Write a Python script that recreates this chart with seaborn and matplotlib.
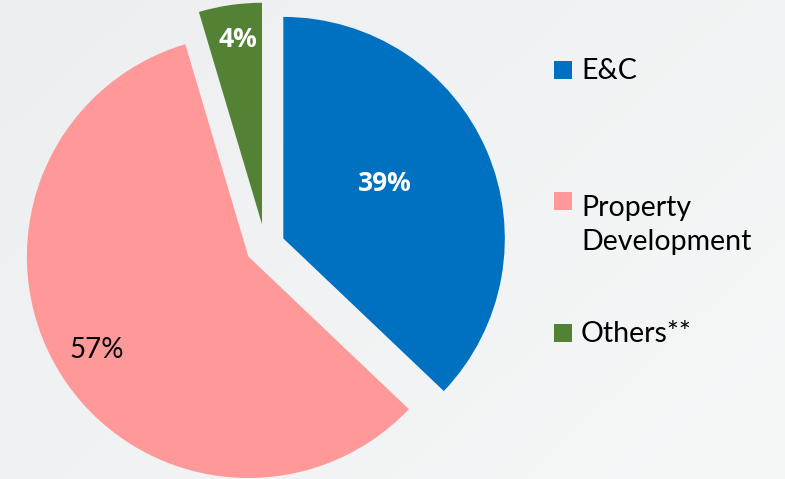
import numpy as np
import matplotlib
matplotlib.use("Agg")
import matplotlib.pyplot as plt
from matplotlib.patches import Rectangle
import seaborn as sns

# ---- data ----
categories = ["E&C", "Property\nDevelopment", "Others**"]
shares = [37.1, 58.3, 4.6]            # slice sizes as drawn
value_labels = ["39%", "57%", "4%"]   # label texts shown on the slices
colors = ["#0070C0", "#FF9999", "#548235"]

sns.set_theme(style="white")
plt.rcParams["font.family"] = ["Lato", "DejaVu Sans"]

W, H = 785, 479
fig = plt.figure(figsize=(W / 100, H / 100), dpi=100)
ax = fig.add_axes([0, 0, 1, 1])

# background gradient
grad = np.linspace(0, 1, 256)
gx, gy = np.meshgrid(grad, grad)
g = (gx * 0.6 + gy * 0.4)
c0 = np.array([0xEC, 0xEE, 0xF0]) / 255
c1 = np.array([0xF6, 0xF7, 0xF7]) / 255
img = c0[None, None, :] * (1 - g[..., None]) + c1[None, None, :] * g[..., None]

palette = sns.color_palette(colors)
wedges, _ = ax.pie(shares, colors=palette, startangle=90, counterclock=False,
                   explode=[0.089, 0.089, 0.10], radius=1.0,
                   wedgeprops=dict(linewidth=0, antialiased=True))

R = 221.5
cx, cy = 265.2, 246.2
xlim = (-cx / R, (W - cx) / R)
ylim = ((cy - H) / R, cy / R)
ax.imshow(img, extent=[xlim[0], xlim[1], ylim[0], ylim[1]], origin="upper",
          zorder=0, aspect="auto")
for w in wedges:
    w.set_zorder(2)
ax.set_xlim(*xlim)
ax.set_ylim(*ylim)
ax.set_aspect("auto")
ax.axis("off")

# slice value labels
label_style = [
    dict(dist=0.52, dang=5.3, color="white", weight="bold",
         family=["Open Sans", "DejaVu Sans"], size=19),
    dict(dist=0.805, dang=0.0, color="black", weight="normal",
         family=["Lato", "DejaVu Sans"], size=20),
    dict(dist=0.84, dang=-0.8, color="white", weight="bold",
         family=["Open Sans", "DejaVu Sans"], size=19),
]
for w, txt, st in zip(wedges, value_labels, label_style):
    mid = np.deg2rad((w.theta1 + w.theta2) / 2 + st["dang"])
    x = w.center[0] + st["dist"] * np.cos(mid)
    y = w.center[1] + st["dist"] * np.sin(mid)
    ax.text(x, y, txt, ha="center", va="center", fontsize=st["size"],
            color=st["color"], fontweight=st["weight"], family=st["family"],
            zorder=3)

# legend (drawn manually to match layout)
def fx(px):
    return px / W

def fy(py):
    return 1 - py / H

sq_tops = [61, 192, 324]
baselines = [79, 216, 342]
line_step = 34
for cat, col, top, base in zip(categories, colors, sq_tops, baselines):
    fig.patches.append(Rectangle((fx(554), fy(top + 17.5)), 18 / W, 17.5 / H,
                                 transform=fig.transFigure, facecolor=col,
                                 edgecolor="none", zorder=3))
    for i, line in enumerate(cat.split("\n")):
        fig.text(fx(581), fy(base + i * line_step), line, ha="left",
                 va="baseline", fontsize=20.5, color="#000000")

fig.savefig("out.png", dpi=100)
